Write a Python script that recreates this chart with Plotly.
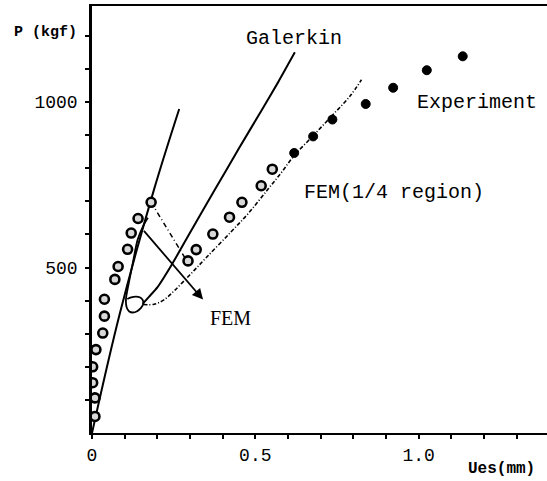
import plotly.graph_objects as go

# ---------------- data ----------------
exp_open_x = [0.009, 0.009, 0.002, 0.002, 0.012, 0.033, 0.038, 0.038, 0.070, 0.080,
              0.109, 0.120, 0.141, 0.181, 0.294, 0.319, 0.370, 0.421, 0.459, 0.518, 0.552]
exp_open_y = [50, 106, 152, 200, 252, 302, 353, 404, 464, 503,
              555, 604, 648, 697, 520, 554, 601, 652, 697, 747, 797]
exp_solid_x = [0.619, 0.677, 0.736, 0.838, 0.922, 1.025, 1.135]
exp_solid_y = [846, 896, 947, 994, 1043, 1096, 1138]

linear_x = [0.0, 0.085, 0.19, 0.267]
linear_y = [0, 360, 736, 979]

fem_x = [0.171, 0.158, 0.140, 0.125, 0.112, 0.104, 0.106, 0.114, 0.125, 0.138,
         0.150, 0.157, 0.155, 0.146, 0.135, 0.120, 0.108]
fem_y = [650, 628, 585, 514, 450, 405, 380, 367, 364, 368,
         378, 390, 402, 410, 412, 410, 405]

galerkin_x = [0.155, 0.175, 0.200, 0.245, 0.300, 0.375, 0.450, 0.518, 0.570, 0.621]
galerkin_y = [390, 412, 440, 510, 605, 733, 860, 973, 1060, 1150]

fem_q_x = [0.157, 0.190, 0.220, 0.252, 0.300, 0.350, 0.426, 0.480, 0.539, 0.580,
           0.619, 0.677, 0.736, 0.790, 0.825]
fem_q_y = [388, 389, 402, 430, 478, 530, 608, 665, 737, 787,
           838, 898, 960, 1018, 1067]

jump_exp_x = [0.181, 0.286]
jump_exp_y = [697, 527]
jump_fem_x = [0.155, 0.340]
jump_fem_y = [615, 403]

x_tickvals = [0.0, 0.1, 0.2, 0.3, 0.4, 0.5, 0.6, 0.7, 0.8, 0.9, 1.0, 1.1, 1.2, 1.3]
x_ticktext = ["0", "", "", "", "", "0.5", "", "", "", "", "1.0", "", "", ""]
y_tickvals = [100, 200, 300, 400, 500, 600, 700, 800, 900, 1000, 1100, 1200]
y_ticktext = ["", "", "", "", "500", "", "", "", "", "1000", "", ""]

MONO = "Liberation Mono, Courier New, monospace"
SERIF = "Liberation Serif, Times New Roman, serif"

fig = go.Figure()

fig.add_trace(go.Scatter(x=linear_x, y=linear_y, mode="lines",
                         line=dict(color="black", width=2, shape="spline"), hoverinfo="skip"))
fig.add_trace(go.Scatter(x=fem_x, y=fem_y, mode="lines",
                         line=dict(color="black", width=1.8, shape="spline", smoothing=0.8),
                         hoverinfo="skip"))
fig.add_trace(go.Scatter(x=galerkin_x, y=galerkin_y, mode="lines",
                         line=dict(color="black", width=2, shape="spline", smoothing=0.6),
                         hoverinfo="skip"))
fig.add_trace(go.Scatter(x=fem_q_x, y=fem_q_y, mode="lines",
                         line=dict(color="black", width=1.6, shape="spline",
                                   dash="4px,2px,1px,2px"), hoverinfo="skip"))
fig.add_trace(go.Scatter(x=jump_exp_x, y=jump_exp_y, mode="lines",
                         line=dict(color="black", width=1.5, dash="5px,3px,1px,3px"),
                         hoverinfo="skip"))

fig.add_trace(go.Scatter(x=exp_open_x, y=exp_open_y, mode="markers",
                         marker=dict(symbol="circle", size=9, color="#d8d8d8",
                                     line=dict(color="black", width=2.6)), hoverinfo="skip"))
fig.add_trace(go.Scatter(x=exp_solid_x, y=exp_solid_y, mode="markers",
                         marker=dict(symbol="circle", size=9, color="black",
                                     line=dict(color="black", width=1)), hoverinfo="skip"))

# solid jump arrow (FEM)
fig.add_annotation(x=jump_fem_x[1], y=jump_fem_y[1], ax=jump_fem_x[0], ay=jump_fem_y[0],
                   xref="x", yref="y", axref="x", ayref="y", text="", showarrow=True,
                   arrowhead=2, arrowsize=1.2, arrowwidth=1.8, arrowcolor="black")

labels = [
    ("Galerkin", 0.619, 1191, MONO, 20),
    ("Experiment", 1.179, 998, MONO, 20),
    ("FEM(1/4 region)", 0.925, 726, MONO, 20),
    ("FEM", 0.424, 348, SERIF, 20),
]
for txt, lx, ly, fam, sz in labels:
    fig.add_annotation(x=lx, y=ly, xref="x", yref="y", text=txt, showarrow=False,
                       font=dict(family=fam, size=sz, color="black"),
                       xanchor="center", yanchor="middle")

fig.add_annotation(x=-0.102, y=0.939, xref="paper", yref="paper", text="<b>P (kgf)</b>",
                   showarrow=False, font=dict(family=MONO, size=15, color="black"),
                   xanchor="center", yanchor="middle")
fig.add_annotation(x=0.901, y=-0.085, xref="paper", yref="paper", text="<b>Ues(mm)</b>",
                   showarrow=False, font=dict(family=MONO, size=16, color="black"),
                   xanchor="center", yanchor="middle")

fig.update_layout(
    width=547, height=481,
    margin=dict(l=92, r=0, t=6, b=48),
    paper_bgcolor="white", plot_bgcolor="white",
    showlegend=False,
    font=dict(family=MONO, color="black"),
)
fig.update_xaxes(range=[0, 1.393], tickvals=x_tickvals, ticktext=x_ticktext,
                 ticks="outside", ticklen=4, tickwidth=1.5, tickcolor="black",
                 showline=True, linecolor="black", linewidth=2, mirror=True,
                 showgrid=False, zeroline=False,
                 tickfont=dict(family=MONO, size=18, color="black"))
fig.update_yaxes(range=[0, 1290], tickvals=y_tickvals, ticktext=y_ticktext,
                 ticks="outside", ticklen=4, tickwidth=1.5, tickcolor="black",
                 showline=True, linecolor="black", linewidth=2.5,
                 showgrid=False, zeroline=False, ticklabelstandoff=4,
                 tickfont=dict(family=MONO, size=18, color="black"))

fig.write_html("out.html")
